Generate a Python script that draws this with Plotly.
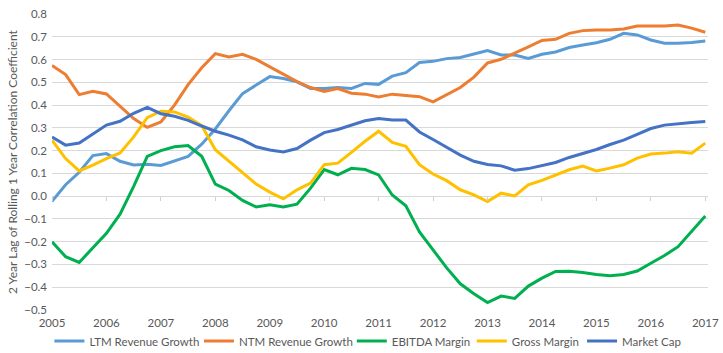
import plotly.graph_objects as go

quarters = [2005 + 0.25 * i for i in range(49)]
year_ticks = list(range(2005, 2018))
year_labels = [str(y) for y in year_ticks]

ltm_revenue_growth = [
    -0.023, 0.050, 0.105, 0.178,
    0.187, 0.153, 0.137, 0.140,
    0.135, 0.155, 0.175, 0.228,
    0.295, 0.375, 0.450, 0.488,
    0.525, 0.517, 0.502, 0.473,
    0.473, 0.477, 0.473, 0.495,
    0.491, 0.527, 0.542, 0.587,
    0.592, 0.604, 0.609, 0.624,
    0.639, 0.620, 0.620, 0.605,
    0.623, 0.633, 0.653, 0.664,
    0.674, 0.689, 0.715, 0.708,
    0.686, 0.672, 0.671, 0.675,
    0.681,
]
ntm_revenue_growth = [
    0.574, 0.534, 0.446, 0.461,
    0.449, 0.395, 0.341, 0.302,
    0.326, 0.400, 0.490, 0.564,
    0.626, 0.611, 0.623, 0.601,
    0.568, 0.535, 0.503, 0.477,
    0.460, 0.473, 0.452, 0.448,
    0.436, 0.448, 0.441, 0.437,
    0.414, 0.445, 0.477, 0.523,
    0.585, 0.601, 0.627, 0.656,
    0.684, 0.689, 0.715, 0.727,
    0.730, 0.730, 0.734, 0.747,
    0.747, 0.747, 0.752, 0.738,
    0.720,
]
ebitda_margin = [
    -0.200, -0.266, -0.291, -0.226,
    -0.163, -0.079, 0.043, 0.175,
    0.200, 0.217, 0.222, 0.175,
    0.053, 0.025, -0.019, -0.047,
    -0.038, -0.047, -0.035, 0.035,
    0.117, 0.094, 0.122, 0.117,
    0.093, 0.005, -0.042, -0.157,
    -0.235, -0.315, -0.385, -0.429,
    -0.467, -0.439, -0.449, -0.395,
    -0.360, -0.331, -0.330, -0.335,
    -0.344, -0.349, -0.344, -0.329,
    -0.295, -0.261, -0.222, -0.156,
    -0.087,
]
gross_margin = [
    0.246, 0.165, 0.111, 0.136,
    0.165, 0.190, 0.260, 0.345,
    0.373, 0.370, 0.347, 0.310,
    0.204, 0.153, 0.106, 0.053,
    0.018, -0.012, 0.028, 0.057,
    0.138, 0.145, 0.192, 0.241,
    0.285, 0.236, 0.219, 0.138,
    0.097, 0.068, 0.028, 0.006,
    -0.024, 0.013, 0.001, 0.050,
    0.069, 0.094, 0.116, 0.132,
    0.111, 0.123, 0.138, 0.167,
    0.185, 0.189, 0.195, 0.189,
    0.233,
]
market_cap = [
    0.260, 0.224, 0.233, 0.274,
    0.312, 0.329, 0.364, 0.390,
    0.362, 0.351, 0.333, 0.308,
    0.285, 0.268, 0.247, 0.217,
    0.203, 0.194, 0.209, 0.246,
    0.279, 0.293, 0.312, 0.331,
    0.341, 0.334, 0.334, 0.282,
    0.249, 0.213, 0.180, 0.153,
    0.139, 0.133, 0.114, 0.121,
    0.133, 0.148, 0.170, 0.187,
    0.205, 0.227, 0.246, 0.271,
    0.297, 0.312, 0.316, 0.323,
    0.328,
]

series = [
    ("LTM Revenue Growth", ltm_revenue_growth, "#5B9BD5"),
    ("NTM Revenue Growth", ntm_revenue_growth, "#ED7D31"),
    ("EBITDA Margin", ebitda_margin, "#00B050"),
    ("Gross Margin", gross_margin, "#FFC000"),
    ("Market Cap", market_cap, "#4472C4"),
]
# horizontal placement of each legend entry (paper fraction of plot width)
legend_x = [-0.004, 0.224, 0.457, 0.640, 0.808]

FONT = "Lato"
GRAY = "#595959"
Y_TITLE = "2 Year Lag of Rolling 1 Year Correlation Coefficient"

fig = go.Figure()
legend_layout = {}
for i, ((name, vals, color), lx) in enumerate(zip(series, legend_x)):
    key = "legend" if i == 0 else f"legend{i + 1}"
    fig.add_trace(go.Scatter(
        x=quarters, y=vals, name=name, mode="lines",
        line=dict(color=color, width=3), legend=key,
    ))
    legend_layout[key] = dict(
        orientation="h", x=lx, xanchor="left", y=-0.105, yanchor="middle",
        font=dict(family=FONT, size=11.5, color=GRAY),
        itemwidth=30, bgcolor="rgba(0,0,0,0)",
    )

# invisible helper trace so the tick-mark axis crossing at y=0 is drawn
fig.add_trace(go.Scatter(
    x=quarters, y=market_cap, xaxis="x2", mode="lines",
    line=dict(width=0, color="rgba(0,0,0,0)"), showlegend=False,
    hoverinfo="skip",
))

fig.update_layout(
    width=723, height=353,
    margin=dict(l=52, r=15, t=14, b=43, autoexpand=False),
    paper_bgcolor="white", plot_bgcolor="white",
    font=dict(family=FONT, size=11.5, color=GRAY),
    showlegend=True,
    xaxis=dict(
        range=[2005, 2017.05], tickmode="array",
        tickvals=year_ticks, ticktext=year_labels,
        showgrid=False, zeroline=False, showline=False, automargin=False,
        ticks="", ticklabelstandoff=4,
        tickfont=dict(family=FONT, size=11.5, color=GRAY),
    ),
    xaxis2=dict(
        range=[2005, 2017.05], overlaying="x", anchor="free",
        position=0.5 / 1.3, side="bottom",
        tickmode="array", tickvals=year_ticks,
        showticklabels=False, ticks="outside", ticklen=4,
        tickcolor="#d0d0d0", tickwidth=1,
        showgrid=False, zeroline=False, showline=False,
    ),
    yaxis=dict(
        range=[-0.5, 0.8], dtick=0.1, tick0=0, tickformat=".1f",
        showgrid=True, gridcolor="#d9d9d9", gridwidth=1,
        zeroline=False, showline=False, ticks="", automargin=False,
        ticklabelstandoff=4,
        tickfont=dict(family=FONT, size=11.5, color=GRAY),
    ),
    annotations=[dict(
        text=Y_TITLE, textangle=-90, xref="paper", yref="paper",
        x=-0.061, y=0.5, xanchor="center", yanchor="middle",
        showarrow=False, font=dict(family=FONT, size=12, color=GRAY),
    )],
    **legend_layout,
)

fig.write_html("out.html")
